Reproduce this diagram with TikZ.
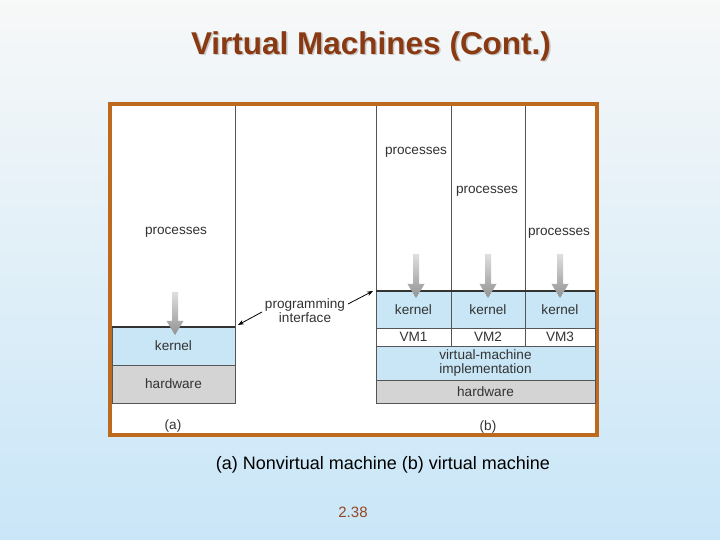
\documentclass[tikz,border=0pt]{standalone}
\usepackage{fontspec}
\setmainfont{Liberation Sans}
\usetikzlibrary{arrows.meta}
\definecolor{bgtop}{HTML}{F7F8F8}
\definecolor{bgbot}{HTML}{C9E6F8}
\definecolor{frameor}{HTML}{BE6A1E}
\definecolor{kblue}{HTML}{C8E6F6}
\definecolor{hgray}{HTML}{D4D4D4}
\definecolor{titlebrown}{HTML}{8A3A12}
\definecolor{numbrown}{HTML}{964620}
\definecolor{lineg}{HTML}{555555}
\newcommand{\blockarr}[4]{%
  \shade[top color=gray!25, bottom color=gray!85]
   ({#1-3},#2) -- ({#1+3},#2) -- ({#1+3},#3) -- ({#1+8.5},#3) -- (#1,#4)
   -- ({#1-8.5},#3) -- ({#1-3},#3) -- cycle;}
\tikzset{
  layer/.style={draw=lineg, line width=0.7pt, inner sep=0pt, outer sep=0pt,
    anchor=south west, font=\fontsize{13.6}{15}\selectfont, text=black!80, align=center},
  lbl/.style={font=\fontsize{13.6}{15}\selectfont, text=black!80, inner sep=0pt, align=center},
  sep/.style={draw=lineg, line width=0.7pt},
  topline/.style={draw=black!80, line width=1.6pt},
  piarrow/.style={draw=black, line width=0.8pt, -{Stealth[length=6pt,width=4.5pt]}},
}
\begin{document}
\begin{tikzpicture}[x=1pt,y=1pt]
\useasboundingbox (0,0) rectangle (720,540);
\shade[top color=bgtop, bottom color=bgbot] (0,0) rectangle (720,540);

% title
\node[font=\bfseries\fontsize{31.5}{35}\selectfont, text=gray!45] (titleshadow) at (372.5,492.5) {Virtual Machines (Cont.)};
\node[font=\bfseries\fontsize{31.5}{35}\selectfont, text=titlebrown] (title) at (371,494) {Virtual Machines (Cont.)};

% frame
\draw[frameor, line width=4pt, fill=white] (110,105) rectangle (597,436);

% (a) panel
\draw[sep] (235,434) -- (235,213);
\node[layer, fill=kblue, minimum width=123pt, minimum height=38pt] (ka) at (112,175) {kernel};
\node[layer, fill=hgray, minimum width=123pt, minimum height=38pt] (ha) at (112,137) {hardware};
\draw[topline] (112,213) -- (235,213);
\node[lbl] (pa) at (176,308) {processes};
\blockarr{175}{248}{219}{205}
\node[lbl] (labela) at (173,114) {(a)};

% (b) panel
\draw[sep] (376,434) -- (376,137);
\draw[sep] (451,434) -- (451,212);
\draw[sep] (525,434) -- (525,212);
\node[layer, fill=kblue, minimum width=75pt, minimum height=37pt] (kb1) at (376,212) {kernel};
\node[layer, fill=kblue, minimum width=74pt, minimum height=37pt] (kb2) at (451,212) {kernel};
\node[layer, fill=kblue, minimum width=70pt, minimum height=37pt] (kb3) at (525,212) {kernel};
\node[layer, fill=white, minimum width=75pt, minimum height=18pt] (vm1) at (376,194) {VM1};
\node[layer, fill=white, minimum width=74pt, minimum height=18pt] (vm2) at (451,194) {VM2};
\node[layer, fill=white, minimum width=70pt, minimum height=18pt] (vm3) at (525,194) {VM3};
\node[layer, fill=kblue, minimum width=219pt, minimum height=34pt, font=\fontsize{13.6}{14}\selectfont] (vmi) at (376,160) {virtual-machine\\implementation};
\node[layer, fill=hgray, minimum width=219pt, minimum height=23pt] (hb) at (376,137) {hardware};
\draw[topline] (376,249) -- (595,249);
\node[lbl] (pb1) at (416,388) {processes};
\node[lbl] (pb2) at (487,349) {processes};
\node[lbl] (pb3) at (559,307) {processes};
\blockarr{416}{286}{256}{242}
\blockarr{488}{286}{256}{242}
\blockarr{560}{286}{256}{242}
\node[lbl] (labelb) at (488,113) {(b)};

% programming interface
\node[lbl, font=\fontsize{13.6}{14}\selectfont] (pi) at (305,229) {programming\\interface};
\coordinate (pitailL) at (262,228);
\coordinate (pitipL) at (238,215);
\coordinate (pitailR) at (348,236);
\coordinate (pitipR) at (373,249);
\draw[piarrow] (pitailL) -- (pitipL);
\draw[piarrow] (pitailR) -- (pitipR);

% caption
\node[font=\fontsize{18}{21}\selectfont] (caption) at (383,75) {(a) Nonvirtual machine (b) virtual machine};
\node[font=\fontsize{15}{17}\selectfont, text=numbrown] (pagenum) at (353,28) {2.38};
\end{tikzpicture}
\end{document}
